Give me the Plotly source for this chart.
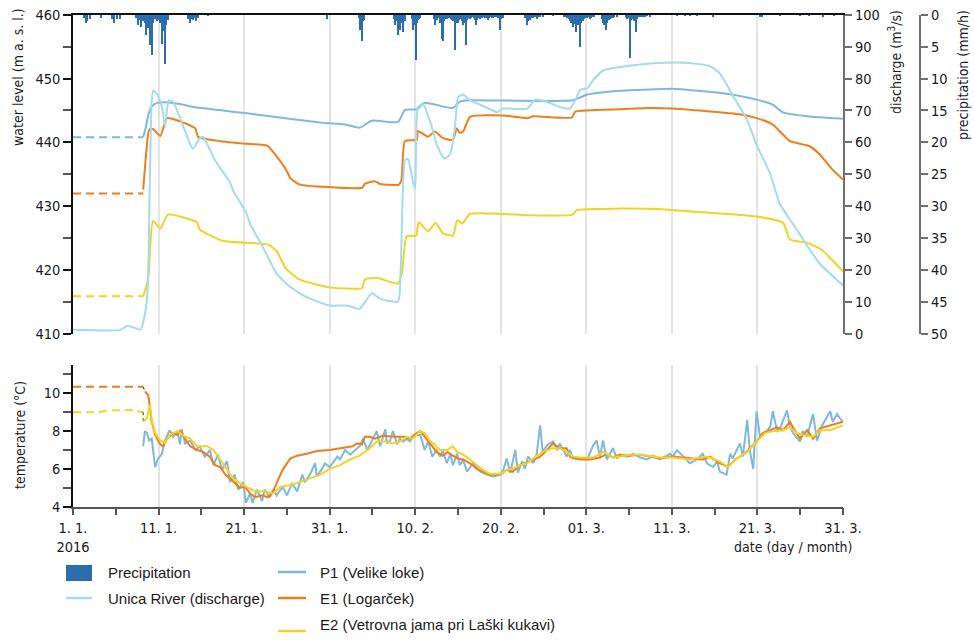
import pandas as pd
import plotly.graph_objects as go

# ---------------------------------------------------------------------------
# Data (time given as days elapsed since 1 Jan 2016 00:00)
# ---------------------------------------------------------------------------
START = pd.Timestamp("2016-01-01")
END_DAY = 90

tick_days = [0, 10, 20, 30, 40, 50, 60, 70, 80, 90]
tick_labels = ["1. 1.<br>2016", "11. 1.", "21. 1.", "31. 1.", "10. 2.",
               "20. 2.", "01. 3.", "11. 3.", "21. 3.", "31. 3."]

# Precipitation (mm/h)
precip_days = [1.3, 1.5, 1.7, 1.99, 3.27, 4.6, 4.75, 5.14, 5.49,
               7.4, 7.6, 7.8, 8.0, 8.2, 8.4, 8.6, 8.8, 9.0, 9.2, 9.4, 9.6, 9.8, 10.0,
               10.2, 10.4, 10.6, 10.75, 10.9, 11.1,
               13.5, 13.7, 13.9, 14.05, 14.2, 14.4, 14.6, 15.78, 29.69,
               33.4, 33.54, 33.66, 33.78, 33.9, 34.01,
               37.5, 37.63, 37.8, 37.99, 38.1, 38.22, 38.4, 38.57, 38.7, 38.85,
               39.6, 39.74, 39.9, 40.09, 40.2, 40.32, 40.45, 40.56,
               42.2, 42.31, 42.45, 42.58, 42.72, 42.89, 43.0, 43.13, 43.26, 43.4, 43.55,
               43.71, 43.85, 44.0, 44.15, 44.30, 44.45, 44.65, 44.8, 45.0, 45.15, 45.3,
               45.45, 45.58, 45.75, 45.93, 46.1, 46.25, 46.40, 46.55, 46.7, 46.87, 47.0,
               47.13, 47.25, 47.4, 47.57, 47.7, 47.85, 48.0, 48.15, 48.3, 48.50, 48.65,
               48.8, 48.95, 49.09, 49.25, 49.4, 49.56, 49.7, 49.91, 50.05, 50.26,
               52.9, 53.06, 53.2, 53.41, 53.6, 53.8, 54.0, 54.23, 54.4, 54.6, 54.93,
               56.1, 57.4, 57.62, 57.8, 57.95, 58.09, 58.25, 58.44, 58.6, 58.79, 58.9,
               59.02, 59.15, 59.28, 59.45, 59.61, 59.8, 59.96, 60.1, 60.25, 60.43, 60.6,
               60.75, 60.89,
               61.8, 61.95, 62.1, 62.30, 62.45, 62.65, 62.8, 62.95, 63.11, 63.3, 63.58,
               64.6, 64.75, 64.9, 65.10, 65.25, 65.45, 65.6, 65.80, 65.95, 66.15, 66.4,
               66.6, 66.85, 67.1, 67.44,
               70.59, 71.5, 72.11, 72.93, 74.80, 80.29, 80.53, 82.63, 84.97, 86.0,
               87.66, 89.0]
precip_vals = [0.5, 1.3, 0.9, 0.7, 0.4, 0.6, 1.2, 0.6, 0.6,
               0.5, 1.6, 0.8, 1.9, 1.0, 1.3, 3.2, 2.0, 4.7, 6.3, 1.3, 0.6, 1.0, 0.8,
               1.3, 4.5, 2.5, 7.6, 1.5, 0.8,
               0.6, 1.3, 0.6, 0.8, 0.5, 1.0, 0.4, 0.1, 0.6,
               0.5, 2.4, 1.2, 4.0, 1.0, 0.8,
               0.6, 1.6, 1.0, 3.2, 1.5, 2.4, 1.2, 2.6, 0.8, 1.0,
               0.6, 2.4, 1.5, 7.1, 1.2, 0.8, 0.6, 0.4,
               0.6, 1.6, 0.8, 0.8, 0.5, 1.3, 1.0, 3.7, 4.0, 1.0, 0.6,
               0.6, 0.5, 0.4, 0.6, 0.8, 1.0, 5.5, 1.2, 1.3, 0.8, 0.6,
               0.9, 1.6, 1.2, 4.7, 0.8, 0.5, 0.6, 0.5, 0.3, 0.4, 0.8,
               1.6, 0.8, 0.5, 0.6, 0.3, 0.5, 0.3, 0.4, 0.5, 0.8, 0.4,
               0.3, 0.5, 0.4, 0.3, 0.2, 0.3, 0.4, 2.4, 0.6, 0.4,
               0.5, 1.6, 1.0, 0.8, 0.5, 0.4, 0.3, 0.6, 0.3, 0.2, 0.2,
               0.1, 0.2, 0.3, 0.5, 0.6, 1.0, 1.2, 1.9, 1.4, 2.7, 1.5,
               1.0, 1.6, 5.0, 1.2, 1.0, 0.6, 0.4, 0.5, 0.3, 0.6, 0.4,
               0.3, 0.2,
               0.6, 1.3, 1.5, 2.4, 1.2, 0.8, 0.6, 0.5, 0.4, 0.3, 0.2,
               0.3, 0.6, 0.5, 6.8, 0.8, 0.6, 1.0, 2.7, 0.6, 0.3, 0.2,
               0.2, 0.2, 0.15, 0.2,
               0.15, 0.1, 0.15, 0.15, 0.3, 0.3, 0.2, 0.1, 0.1, 0.1,
               0.2, 0.1]

# Unica River discharge (m3/s)
unica_days = [0, 5.5, 6.4, 7.9, 8.2, 8.6, 8.8, 9.0, 9.2, 9.4, 9.9, 10.4, 10.75, 11.2,
              11.7, 13.1, 14.0, 14.8, 15.2, 16.6, 18.35, 18.7, 20.3, 20.7, 22.2, 23.8,
              25.4, 27.35, 30.0, 32.0, 33.5, 34.1, 34.95, 35.9, 38.0, 38.3, 38.8, 39.15,
              39.7, 40.0, 40.3, 40.9, 41.7, 42.5, 43.1, 43.5, 44.1, 44.65, 45.0, 45.6,
              46.4, 48.2, 49.6, 50.3, 53.1, 54.0, 55.2, 56.9, 58.1, 58.7, 59.3, 60.1,
              60.8, 62.0, 63.9, 66.3, 70.1, 72.9, 74.45, 75.6, 77.1, 78.8, 79.9, 81.5,
              82.6, 84.15, 85.8, 87.3, 90.0]
unica_q = [1.3, 1.3, 2.6, 1.4, 3.7, 9.5, 19.9, 51.0, 73.0, 76.3, 74.8, 71.0, 65.3, 73.2,
           72.7, 63.6, 58.0, 61.2, 61.7, 54.4, 47.5, 45.0, 37.7, 34.5, 27.2, 18.9,
           14.7, 11.5, 8.9, 8.9, 7.9, 10.0, 12.8, 11.0, 10.2, 19.9, 54.4, 54.9,
           48.1, 45.5, 71.1, 72.0, 66.9, 59.6, 56.0, 54.9, 56.5, 64.8, 74.2, 75.0,
           73.2, 71.1, 69.5, 70.6, 70.6, 73.4, 72.9, 71.1, 70.6, 73.2, 76.5, 76.9,
           79.5, 82.6, 83.6, 84.4, 85.0, 84.6, 83.9, 81.6, 74.8, 67.0, 59.2, 50.2,
           40.8, 34.5, 27.7, 22.0, 15.2]

# Water level (m a.s.l.) -- assumed constant before logging started
p1_level_gap_days = [0, 8.2]
p1_level_gap = [440.8, 440.8]
p1_level_days = [8.2, 8.5, 8.8, 9.2, 9.8, 10.75, 12.5, 14.3, 20.1, 26.0, 28.9, 31.8, 33.5,
                 34.9, 38.0, 38.8, 40.2, 41.1, 44.4, 45.2, 46.4, 58.4, 60.1, 63.9, 67.4,
                 70.1, 75.97, 79.9, 81.8, 83.0, 85.8, 90.0]
p1_level = [440.8, 442.3, 444.3, 445.6, 446.2, 446.3, 446.0, 445.5, 444.6, 443.6, 443.1,
            442.8, 442.3, 443.4, 443.2, 445.1, 445.2, 446.2, 445.4, 446.4, 446.6, 446.6,
            447.5, 448.1, 448.3, 448.4, 447.7, 446.7, 445.9, 444.7, 444.1, 443.7]

e1_level_gap_days = [0, 8.2]
e1_level_gap = [432.0, 432.0]
e1_level_days = [8.2, 8.5, 8.8, 9.0, 9.35, 10.2, 11.0, 12.5, 14.3, 14.6, 17.2, 20.1, 22.7,
                 23.8, 25.0, 25.4, 26.5, 30.0, 33.8, 34.1, 35.3, 35.9, 38.1, 38.4, 38.8,
                 40.2, 40.3, 41.5, 42.3, 43.2, 44.4, 44.85, 45.2, 45.6, 46.4, 50.3, 53.1,
                 53.8, 58.3, 58.7, 63.9, 67.4, 70.1, 77.96, 79.9, 81.8, 83.0, 83.8, 86.1,
                 87.3, 88.8, 90.0]
e1_level = [432.6, 437.5, 441.5, 442.1, 442.1, 441.0, 443.8, 443.3, 442.2, 440.9, 440.2,
            439.8, 439.5, 437.8, 435.5, 434.4, 433.4, 433.0, 432.9, 433.5, 433.9, 433.5,
            433.4, 434.2, 440.2, 440.4, 441.8, 440.9, 441.7, 440.7, 440.4, 442.2, 441.5,
            441.7, 444.0, 444.2, 443.8, 444.1, 443.9, 444.8, 445.2, 445.4, 445.3, 444.4,
            443.8, 442.8, 441.2, 440.2, 439.4, 438.1, 435.7, 434.2]

e2_level_gap_days = [0, 8.2]
e2_level_gap = [415.9, 415.9]
e2_level_days = [8.2, 8.77, 9.35, 10.2, 11.1, 14.5, 14.8, 17.5, 22.8, 23.8, 24.8, 26.5,
                 30.0, 33.8, 34.1, 35.5, 38.0, 38.45, 39.0, 40.1, 40.4, 41.5, 42.4, 43.2,
                 44.4, 44.9, 45.5, 46.4, 50.3, 53.1, 58.4, 58.9, 67.4, 70.1, 79.9, 83.0,
                 83.8, 85.8, 87.5, 90.0]
e2_level = [415.9, 418.5, 427.7, 426.5, 428.7, 427.5, 426.4, 424.6, 424.0, 423.0, 420.4,
            418.5, 417.3, 417.2, 418.5, 418.8, 417.9, 419.6, 425.3, 425.4, 427.5, 426.1,
            427.4, 425.8, 425.4, 427.8, 427.3, 428.8, 428.8, 428.6, 428.7, 429.4, 429.6,
            429.4, 428.4, 427.4, 424.8, 424.3, 423.2, 419.8]

# Water temperature (deg C)
p1_temp_days = [8.2, 8.4, 8.65, 8.9, 9.2, 9.6, 9.9, 10.4, 10.75, 11.3, 11.7, 12.2, 12.5,
                12.7, 13.1, 13.7, 14.3, 14.8, 15.4, 16.0, 16.4, 16.95, 17.4, 18.0, 18.35,
                18.9, 19.3, 19.9, 20.2, 20.7, 21.0, 21.5, 22.1, 22.4, 23.0, 23.4, 23.8,
                24.5, 25.0, 25.6, 26.2, 26.8, 27.1, 27.7, 28.3, 28.5, 29.1, 29.45, 30.0,
                30.9, 31.2, 31.8, 32.4, 33.2, 33.5, 33.9, 34.4, 34.95, 35.5, 35.9, 36.5,
                36.7, 37.05, 37.4, 37.9, 38.2, 38.6, 39.0, 39.4, 39.7, 40.2, 40.6, 41.1,
                41.5, 42.0, 42.5, 42.9, 43.2, 43.7, 44.1, 44.4, 44.9, 45.2, 45.6, 46.05,
                46.75, 47.6, 48.4, 49.1, 49.9, 50.3, 50.7, 51.1, 51.7, 52.0, 52.5, 52.8,
                53.2, 53.8, 54.2, 54.6, 54.9, 55.4, 56.1, 56.6, 56.9, 57.7, 58.1, 58.4,
                59.3, 60.1, 60.8, 61.2, 61.6, 61.95, 62.4, 63.1, 63.6, 63.9, 64.75, 65.5,
                66.3, 67.1, 67.8, 68.6, 69.8, 70.1, 70.6, 71.3, 72.1, 72.9, 73.6, 74.1,
                74.8, 75.3, 75.6, 76.4, 76.8, 77.1, 77.6, 77.96, 78.3, 78.8, 79.1, 79.5,
                79.9, 80.3, 80.65, 81.1, 81.5, 81.8, 82.3, 82.6, 83.45, 83.8, 84.15, 84.97,
                85.3, 85.8, 86.5, 86.96, 87.5, 88.5, 88.8, 89.3, 89.6, 90.0]
p1_temp = [7.2, 8.0, 7.9, 7.5, 7.6, 6.1, 6.5, 6.8, 7.5, 8.05, 7.7, 8.0, 7.3,
           8.1, 7.35, 7.5, 7.0, 7.2, 6.65, 7.0, 6.2, 6.75, 5.95, 6.4, 5.3,
           5.7, 4.9, 5.3, 4.2, 4.7, 4.2, 4.9, 4.3, 4.9, 4.5, 4.9, 4.6,
           5.05, 4.6, 5.25, 4.8, 5.7, 5.3, 5.7, 6.3, 5.6, 6.0, 6.3, 6.1,
           6.65, 6.5, 7.0, 6.75, 7.1, 7.2, 7.6, 7.0, 7.5, 8.0, 7.2, 8.1,
           7.35, 7.5, 8.0, 7.3, 7.6, 7.45, 7.6, 7.45, 7.7, 7.8, 7.8, 7.0,
           7.45, 6.65, 7.0, 6.65, 7.0, 6.3, 6.8, 6.2, 6.8, 6.2, 6.5, 5.85,
           6.3, 5.85, 5.7, 5.6, 5.7, 5.95, 6.55, 5.8, 7.0, 5.8, 6.4, 6.0,
           6.65, 6.3, 6.8, 8.3, 6.9, 7.25, 7.45, 7.0, 7.35, 6.65, 7.0, 6.55,
           6.55, 6.5, 7.25, 7.5, 6.65, 7.5, 6.5, 7.1, 6.55, 6.75, 6.65, 6.8,
           6.6, 6.5, 6.7, 6.5, 6.8, 6.65, 7.0, 6.65, 6.3, 6.5, 6.8, 6.3,
           6.1, 6.4, 5.85, 5.7, 6.8, 6.55, 7.0, 7.35, 6.65, 8.6, 7.0, 6.0,
           9.05, 7.7, 7.9, 8.0, 8.25, 9.05, 8.0, 8.1, 9.1, 8.25, 7.9, 7.45,
           8.0, 7.7, 8.9, 7.5, 8.25, 9.05, 8.5, 8.9, 8.7, 8.5]

e1_temp_gap_days = [0, 8.2]
e1_temp_gap = [10.35, 10.35]
e1_temp_days = [8.4, 8.8, 9.0, 9.2, 9.6, 10.2, 10.5, 11.0, 11.7, 12.2, 12.5, 13.3, 13.7,
                14.5, 15.2, 16.0, 16.6, 17.2, 17.8, 18.35, 18.9, 19.5, 20.1, 20.7, 21.3,
                22.1, 22.8, 23.4, 23.8, 24.5, 25.4, 26.2, 27.35, 28.5, 30.0, 31.2, 32.7,
                33.2, 33.8, 34.1, 34.7, 35.3, 36.2, 37.6, 38.8, 39.4, 40.0, 40.6, 41.1,
                41.7, 42.5, 43.2, 43.8, 44.4, 45.0, 45.6, 46.4, 47.2, 47.9, 48.7, 49.9,
                50.7, 51.4, 52.2, 53.4, 54.6, 55.4, 56.1, 56.9, 57.7, 58.1, 59.3, 60.4,
                61.6, 62.4, 63.1, 63.9, 65.1, 66.3, 68.6, 70.1, 72.1, 73.6, 74.45, 75.6,
                76.55, 77.4, 78.5, 79.4, 79.9, 80.65, 81.5, 82.3, 83.0, 83.8, 84.4, 85.0,
                85.8, 86.5, 87.3, 88.5, 90.0]
e1_temp = [10.1, 9.9, 9.2, 8.5, 7.8, 7.3, 7.2, 7.6, 7.9, 7.8, 8.0, 7.5, 7.2,
           7.0, 6.9, 6.65, 6.2, 6.1, 5.7, 5.5, 5.25, 5.0, 5.05, 4.7, 4.5,
           4.6, 4.5, 4.8, 5.25, 5.95, 6.55, 6.7, 6.8, 6.95, 7.0, 7.1, 7.2,
           7.35, 7.3, 7.7, 7.7, 7.6, 7.75, 7.7, 7.7, 7.6, 7.85, 8.0, 7.7,
           7.35, 6.9, 6.7, 6.9, 6.7, 6.55, 6.5, 6.3, 6.0, 5.85, 5.7, 5.7,
           5.95, 5.85, 6.2, 6.4, 6.65, 7.0, 7.35, 7.1, 7.1, 6.65, 6.5, 6.5,
           6.6, 6.8, 6.6, 6.75, 6.7, 6.75, 6.55, 6.65, 6.55, 6.5, 6.65, 6.3,
           6.1, 6.5, 6.8, 7.2, 7.45, 7.9, 8.05, 8.2, 8.05, 8.5, 8.0, 7.6,
           8.05, 7.6, 8.15, 8.3, 8.5]

e2_temp_gap_days = [0, 3.0, 4.0, 7.0, 8.2]
e2_temp_gap = [9.0, 9.0, 9.1, 9.1, 9.0]
e2_temp_days = [8.2, 8.65, 9.0, 9.2, 9.6, 10.2, 10.75, 11.3, 12.2, 13.1, 13.7, 14.5, 15.7,
                16.4, 17.2, 18.0, 18.7, 19.5, 20.3, 21.3, 22.4, 23.4, 24.2, 25.4, 26.5,
                27.7, 28.9, 30.0, 31.2, 32.4, 33.5, 34.7, 35.5, 36.5, 37.4, 38.2, 39.0,
                39.7, 40.6, 41.1, 41.7, 42.1, 42.9, 43.7, 44.4, 44.9, 45.6, 46.4, 47.2,
                47.9, 48.7, 49.9, 50.7, 51.4, 52.2, 53.1, 53.8, 54.9, 56.1, 56.9, 57.7,
                58.4, 59.3, 60.8, 61.95, 63.1, 65.1, 66.3, 68.6, 70.1, 72.1, 74.1, 75.6,
                76.55, 77.6, 78.8, 79.9, 80.9, 81.8, 83.0, 83.8, 84.6, 85.3, 86.5, 87.3,
                88.5, 90.0]
e2_temp = [8.5, 8.7, 9.4, 8.6, 7.9, 7.5, 7.4, 7.8, 8.0, 7.7, 7.6, 7.2, 7.2,
           7.0, 6.5, 6.0, 5.5, 5.25, 5.05, 4.8, 4.8, 4.7, 5.05, 5.15, 5.3,
           5.5, 5.7, 6.0, 6.2, 6.5, 6.7, 7.1, 7.45, 7.45, 7.35, 7.45, 7.7,
           7.6, 8.0, 7.9, 7.5, 7.35, 7.0, 7.0, 7.2, 6.9, 6.75, 6.5, 6.2,
           5.95, 5.75, 5.75, 5.95, 6.0, 6.2, 6.3, 6.55, 6.9, 7.1, 7.1, 6.9,
           6.65, 6.6, 6.6, 6.9, 6.6, 6.75, 6.75, 6.6, 6.6, 6.5, 6.65, 6.4,
           6.1, 6.55, 6.9, 7.45, 7.9, 8.0, 8.05, 8.2, 7.9, 7.8, 7.7, 8.05,
           8.05, 8.3]

# ---------------------------------------------------------------------------
# Styling
# ---------------------------------------------------------------------------
W, H = 974, 640
FONT = "DejaVu Sans Condensed, Liberation Sans Narrow, sans-serif"
LEGEND_FONT = "Liberation Sans, Arial, sans-serif"
TXT = "#1a1a1a"
C_PRECIP = "#2c6db0"
C_UNICA = "#a3dbea"
C_P1 = "#7fb7df"
C_E1 = "#ef7d1c"
C_E2 = "#f0d423"
C_GRID = "#e4e4e4"
C_RAXIS = "#6e6e6e"


def dates(days):
    return [START + pd.Timedelta(days=d) for d in days]


def px_x(x):
    return x / W


def px_y(y):
    return 1 - y / H


X_DOM = [px_x(73), px_x(843)]
TOP_DOM = [px_y(334), px_y(14.7)]
BOT_DOM = [px_y(506.7), px_y(365)]
X_RANGE = [START, START + pd.Timedelta(days=END_DAY)]
DAY_MS = 86400000

fig = go.Figure()


def line(days, vals, color, xa, ya, dash=None, width=2.0, smooth=False):
    shape = dict(shape="spline", smoothing=0.5) if smooth else dict(shape="linear")
    fig.add_trace(go.Scatter(
        x=dates(days), y=vals, mode="lines", xaxis=xa, yaxis=ya,
        line=dict(color=color, width=width, dash=dash, **shape),
        hoverinfo="skip", showlegend=False))


# Precipitation bars hang from the top of the upper panel
fig.add_trace(go.Bar(
    x=dates(precip_days), y=precip_vals, xaxis="x", yaxis="y3",
    marker=dict(color=C_PRECIP, line=dict(width=0)),
    width=0.15 * DAY_MS, hoverinfo="skip", showlegend=False))

# Upper panel: discharge and water levels
line(unica_days, unica_q, C_UNICA, "x", "y2", smooth=True)
line(p1_level_gap_days, p1_level_gap, C_P1, "x", "y", dash="8px,5px")
line(p1_level_days, p1_level, C_P1, "x", "y", smooth=True)
line(e1_level_gap_days, e1_level_gap, C_E1, "x", "y", dash="8px,5px")
line(e1_level_days, e1_level, C_E1, "x", "y", smooth=True)
line(e2_level_gap_days, e2_level_gap, C_E2, "x", "y", dash="8px,5px")
line(e2_level_days, e2_level, C_E2, "x", "y", smooth=True)

# Lower panel: temperatures
line(p1_temp_days, p1_temp, C_P1, "x2", "y4")
line(e1_temp_gap_days, e1_temp_gap, C_E1, "x2", "y4", dash="8px,5px")
line([e1_temp_gap_days[-1], e1_temp_days[0]], [e1_temp_gap[-1], e1_temp[0]],
     "#333333", "x2", "y4", dash="dot", width=1)
line(e1_temp_days, e1_temp, C_E1, "x2", "y4")
line(e2_temp_gap_days, e2_temp_gap, C_E2, "x2", "y4", dash="8px,5px")
line([e2_temp_gap_days[-1], e2_temp_days[0]], [e2_temp_gap[-1], e2_temp[0]],
     "#333333", "x2", "y4", dash="dot", width=1)
line(e2_temp_days, e2_temp, C_E2, "x2", "y4")

tick_font = dict(family=FONT, size=14.5, color=TXT)
grid_dates = dates(tick_days)

fig.update_layout(
    width=W, height=H, autosize=False,
    margin=dict(l=0, r=0, t=0, b=0),
    paper_bgcolor="white", plot_bgcolor="rgba(0,0,0,0)",
    font=dict(family=FONT, size=14, color=TXT),
    bargap=0,
    showlegend=False,
    xaxis=dict(
        domain=X_DOM, anchor="y", type="date", range=X_RANGE, side="top",
        showline=True, linecolor="#111111", linewidth=1.5,
        ticks="", showticklabels=False, tickvals=grid_dates,
        showgrid=True, gridcolor=C_GRID, gridwidth=1.5, zeroline=False,
        automargin=False),
    yaxis=dict(
        domain=TOP_DOM, anchor="x", range=[410, 460],
        showline=True, linecolor="#111111", linewidth=1.5,
        ticks="outside", ticklen=8, tickwidth=1.5, tickcolor="#111111",
        tick0=410, dtick=10, tickfont=tick_font,
        minor=dict(dtick=5, tick0=410, ticks="outside", ticklen=8,
                   tickwidth=1.5, tickcolor="#555555", showgrid=False),
        showgrid=False, zeroline=False, automargin=False),
    yaxis2=dict(
        overlaying="y", side="right", anchor="x", range=[0, 100],
        showline=True, linecolor=C_RAXIS, linewidth=2,
        ticks="outside", ticklen=7, tickwidth=1.5, tickcolor=C_RAXIS,
        tick0=0, dtick=10, tickfont=tick_font,
        showgrid=False, zeroline=False, automargin=False),
    yaxis3=dict(
        overlaying="y", side="right", anchor="free", position=px_x(920),
        range=[50, 0],
        showline=True, linecolor=C_RAXIS, linewidth=2,
        ticks="outside", ticklen=7, tickwidth=1.5, tickcolor=C_RAXIS,
        tick0=0, dtick=5, tickfont=tick_font,
        showgrid=False, zeroline=False, automargin=False),
    xaxis2=dict(
        domain=X_DOM, anchor="y4", type="date", range=X_RANGE,
        showline=True, linecolor="#555555", linewidth=1.5,
        ticks="outside", ticklen=7, tickwidth=1.5, tickcolor="#555555",
        tickvals=grid_dates, ticktext=tick_labels, tickfont=tick_font,
        minor=dict(tick0=START, dtick=5 * DAY_MS, ticks="outside", ticklen=7,
                   tickwidth=1.5, tickcolor="#555555", showgrid=False),
        showgrid=True, gridcolor=C_GRID, gridwidth=1.5, zeroline=False,
        automargin=False),
    yaxis4=dict(
        domain=BOT_DOM, anchor="x2", range=[4, 11.5],
        showline=True, linecolor="#111111", linewidth=1.5,
        ticks="outside", ticklen=8, tickwidth=1.5, tickcolor="#111111",
        tickvals=[4, 6, 8, 10], tickfont=tick_font,
        minor=dict(dtick=1, tick0=4, ticks="outside", ticklen=8,
                   tickwidth=1.5, tickcolor="#555555", showgrid=False),
        showgrid=False, zeroline=False, automargin=False),
)

# Axis titles
titles = [
    ("water level (m a. s. l.)", 18, 77),
    ("temperature (°C)", 20, 435),
    ("discharge (m<sup>3</sup>/s)", 895, 62),
    ("precipitation (mm/h)", 963, 75),
]
for text, x, y in titles:
    fig.add_annotation(text=text, x=px_x(x), y=px_y(y), xref="paper", yref="paper",
                       textangle=-90, showarrow=False, xanchor="center",
                       yanchor="middle", font=dict(family=FONT, size=14, color=TXT))

fig.add_annotation(text="date (day / month)", x=px_x(793), y=px_y(547),
                   xref="paper", yref="paper", showarrow=False,
                   xanchor="center", yanchor="middle",
                   font=dict(family=FONT, size=14, color=TXT))

# Legend (two columns)
legend_font = dict(family=LEGEND_FONT, size=15, color=TXT)
fig.add_shape(type="rect", xref="paper", yref="paper",
              x0=px_x(66), x1=px_x(92), y0=px_y(581), y1=px_y(565),
              fillcolor=C_PRECIP, line=dict(width=0))
legend_lines = [
    (66, 92, 598, C_UNICA),
    (278, 306, 572, C_P1),
    (278, 306, 598, C_E1),
    (278, 306, 631, C_E2),
]
for x0, x1, y, c in legend_lines:
    fig.add_shape(type="line", xref="paper", yref="paper",
                  x0=px_x(x0), x1=px_x(x1), y0=px_y(y), y1=px_y(y),
                  line=dict(color=c, width=2.5))
legend_texts = [
    ("Precipitation", 106, 572),
    ("Unica River (discharge)", 106, 598),
    ("P1 (Velike loke)", 318, 572),
    ("E1 (Logarček)", 318, 598),
    ("E2 (Vetrovna jama pri Laški kukavi)", 318, 624),
]
for text, x, y in legend_texts:
    fig.add_annotation(text=text, x=px_x(x), y=px_y(y), xref="paper", yref="paper",
                       showarrow=False, xanchor="left", yanchor="middle",
                       font=legend_font)

fig.write_html("out.html")
